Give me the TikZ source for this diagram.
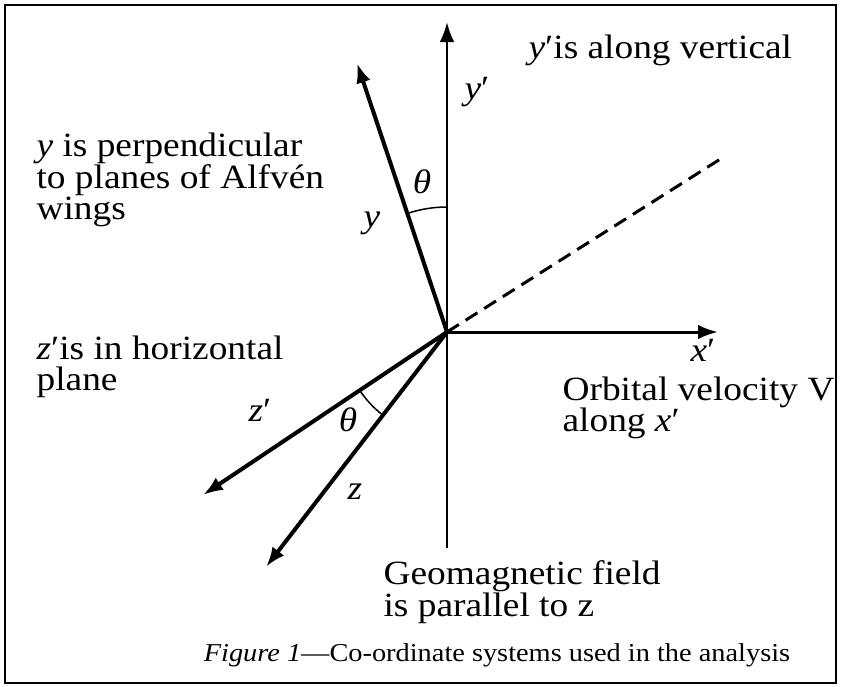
\documentclass[tikz,border=0pt]{standalone}
\usepackage{fontspec}
\setmainfont{Liberation Serif}[FakeStretch=1.1]
\usetikzlibrary{arrows.meta}
\tikzset{
  every picture/.style={line width=1pt},
  axis/.style={-{Latex[length=6mm, width=4.4mm]}, line width=1.2mm},
  thinaxis/.style={-{Latex[length=6mm, width=4.4mm]}, line width=0.75mm},
  anglearc/.style={line width=0.45mm},
  lbl/.style={font=\fontsize{29}{27}\selectfont, inner sep=0pt},
  note/.style={font=\fontsize{29}{27}\selectfont, align=left, anchor=west, inner sep=0pt},
  caption/.style={font=\fontsize{22}{26}\selectfont, inner sep=0pt},
}

\begin{document}
\begin{tikzpicture}[x=0.3mm, y=-0.3mm]
  \useasboundingbox (0,0) rectangle (841,686);
  \draw[line width=0.75mm] (5,5) rectangle (836,683);
  \coordinate (o) at (447,332);
  \coordinate (yptip) at (447,22);
  \coordinate (ypend) at (447,548);
  \coordinate (xptip) at (718,332);
  \coordinate (ytip) at (357,63);
  \coordinate (dashend) at (722,158);
  \coordinate (zptip) at (203,495);
  \coordinate (ztip) at (266,567);
  \draw[thinaxis] (ypend) -- (yptip);
  \draw[axis, line width=0.9mm] (o) -- (xptip);
  \draw[axis] (o) -- (ytip);
  \draw[axis] (o) -- (zptip);
  \draw[axis] (o) -- (ztip);
  \draw[line width=0.9mm, dash pattern=on 4.2mm off 2.4mm] (o) -- (dashend);
  \draw[anglearc] ([shift={(90:37.5mm)}]o) arc[start angle=90, end angle=108.5, radius=37.5mm];
  \draw[anglearc] ([shift={(213.7:31.5mm)}]o) arc[start angle=213.7, end angle=232.4, radius=31.5mm];
  \node[lbl] (lyp) at (477,92) {\textit{y}′};
  \node[lbl] (ly) at (372,223) {\textit{y}};
  \node[lbl] (lth1) at (422,182) {\textit{θ}};
  \node[lbl] (lth2) at (348,420) {\textit{θ}};
  \node[lbl] (lzp) at (260,410) {\textit{z}′};
  \node[lbl] (lz) at (355,492) {\textit{z}};
  \node[lbl] (lxp) at (703,350) {\textit{x}′};
  \node[note] (tvert) at (528,50) {\textit{y}′is along vertical};
  \node[note] (tperp) at (36,180) {\textit{y} is perpendicular\\to planes of Alfvén\\wings};
  \node[note] (thor) at (36,367) {\textit{z}′is in horizontal\\plane};
  \node[note] (torb) at (562,408) {Orbital velocity V\\along \textit{x}′};
  \node[note] (tgeo) at (383,592) {Geomagnetic field\\is parallel to z};
  \node[caption] (cap) at (497,655) {\textit{Figure 1}—Co-ordinate systems used in the analysis};
\end{tikzpicture}
\end{document}
